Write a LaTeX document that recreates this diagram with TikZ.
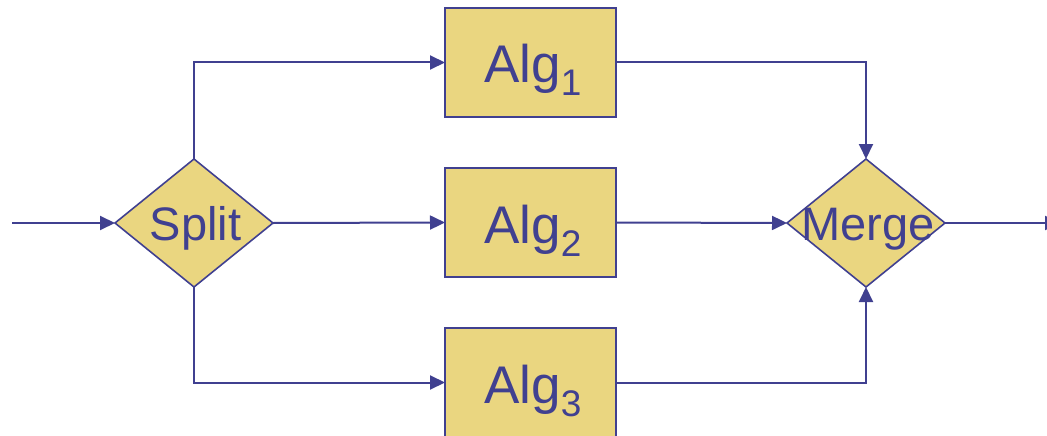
\documentclass[tikz,border=0pt]{standalone}
\usepackage{fontspec}
\setmainfont{Liberation Sans}
\usetikzlibrary{arrows.meta,shapes.geometric}
\definecolor{lineblue}{RGB}{64,64,144}
\definecolor{boxfill}{RGB}{234,214,128}
\newcommand{\algsub}[1]{\raisebox{-13pt}{\fontsize{37}{40}\selectfont #1}}
\tikzset{
  algbox/.style={draw=lineblue, fill=boxfill, line width=2pt, minimum width=171pt, minimum height=109pt, inner sep=0pt, outer sep=0pt},
  decbox/.style={diamond, draw=lineblue, fill=boxfill, line width=1.6pt, minimum width=158pt, minimum height=128pt, inner sep=0pt, outer sep=0pt},
  algtext/.style={text=lineblue, font=\fontsize{53}{60}\selectfont, inner sep=0pt, anchor=base west},
  dectext/.style={text=lineblue, font=\fontsize{47}{52}\selectfont, inner sep=0pt, anchor=base},
  flow/.style={draw=lineblue, line width=2pt, -{Triangle[length=15pt,width=14pt]}},
  plain/.style={draw=lineblue, line width=2pt}
}
\begin{document}
\begin{tikzpicture}[x=1pt,y=-1pt]
\useasboundingbox (0,0) rectangle (1047,436);
\clip (0,0) rectangle (1047,436);
\node[decbox] (split) at (194,223) {};
\node[decbox] (merge) at (866,223) {};
\node[algbox] (a1) at (530.5,62.5) {};
\node[algbox] (a2) at (530.5,222.5) {};
\node[algbox] (a3) at (530.5,382.5) {};
\coordinate (in) at (12,223);
\coordinate (out) at (1060,223);
\draw[flow] (in) -- (split.west);
\draw[flow] (split.north) |- (a1.west);
\draw[flow] (split.east) -- (a2.west);
\draw[flow] (split.south) |- (a3.west);
\draw[flow] (a1.east) -| (merge.north);
\draw[flow] (a2.east) -- (merge.west);
\draw[flow] (a3.east) -| (merge.south);
\draw[flow] (merge.east) -- (out);
\node[dectext] (splitt) at (195.5,240) {Split};
\node[dectext] (merget) at (868,240) {Merge};
\node[algtext] (a1t) at (484,83) {Alg\algsub{1}};
\node[algtext] (a2t) at (484,243) {Alg\algsub{2}};
\node[algtext] (a3t) at (484,403) {Alg\algsub{3}};
\end{tikzpicture}
\end{document}
